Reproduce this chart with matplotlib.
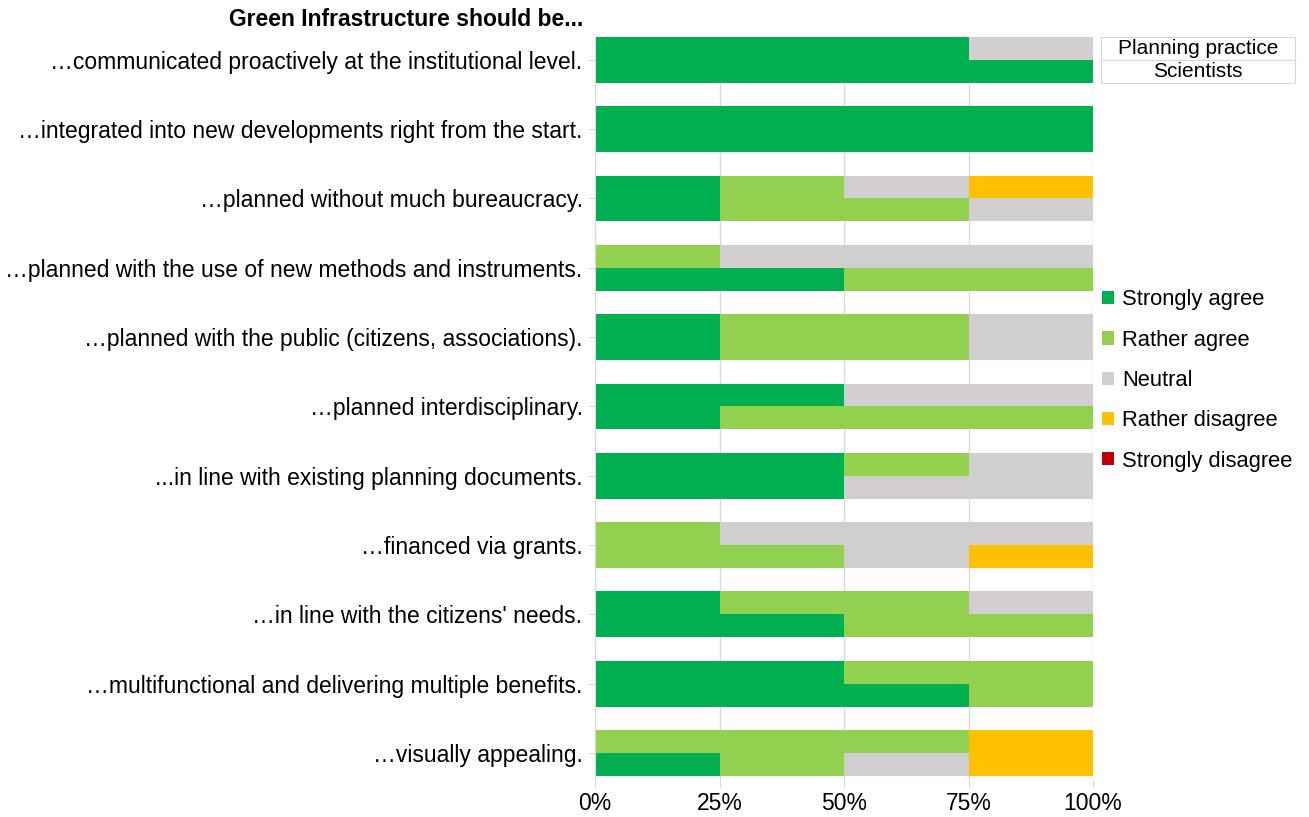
import matplotlib
matplotlib.use("Agg")
import matplotlib.pyplot as plt
from matplotlib.patches import Patch
import numpy as np

plt.rcParams["font.family"] = ["Liberation Sans", "DejaVu Sans"]

statements = [
    "\u2026communicated proactively at the institutional level.",
    "\u2026integrated into new developments right from the start.",
    "\u2026planned without much bureaucracy.",
    "\u2026planned with the use of new methods and instruments.",
    "\u2026planned with the public (citizens, associations).",
    "\u2026planned interdisciplinary.",
    "...in line with existing planning documents.",
    "\u2026financed via grants.",
    "\u2026in line with the citizens' needs.",
    "\u2026multifunctional and delivering multiple benefits.",
    "\u2026visually appealing.",
]
answers = ["Strongly agree", "Rather agree", "Neutral", "Rather disagree", "Strongly disagree"]
answer_colors = ["#00b050", "#92d050", "#d0cece", "#ffc000", "#c00000"]
groups = ["Planning practice", "Scientists"]

# shares in percent, one row per statement, columns follow `answers`
planning_practice = np.array([
    [75, 0, 25, 0, 0],
    [100, 0, 0, 0, 0],
    [25, 25, 25, 25, 0],
    [0, 25, 75, 0, 0],
    [25, 50, 25, 0, 0],
    [50, 0, 50, 0, 0],
    [50, 25, 25, 0, 0],
    [0, 25, 75, 0, 0],
    [25, 50, 25, 0, 0],
    [50, 50, 0, 0, 0],
    [0, 75, 0, 25, 0],
])
scientists = np.array([
    [100, 0, 0, 0, 0],
    [100, 0, 0, 0, 0],
    [25, 50, 25, 0, 0],
    [50, 50, 0, 0, 0],
    [25, 50, 25, 0, 0],
    [25, 75, 0, 0, 0],
    [50, 0, 50, 0, 0],
    [0, 50, 25, 25, 0],
    [50, 50, 0, 0, 0],
    [75, 25, 0, 0, 0],
    [25, 25, 25, 25, 0],
])

fig = plt.figure(figsize=(13.09, 8.17), dpi=100)
ax = fig.add_axes([595 / 1309, 1 - 780 / 817, 498 / 1309, 743 / 817])

bar_h = 0.33
y = np.arange(len(statements))
for offset, data in ((-bar_h / 2, planning_practice), (bar_h / 2, scientists)):
    left = np.zeros(len(statements))
    for k, color in enumerate(answer_colors):
        ax.barh(y + offset, data[:, k], left=left, height=bar_h, color=color,
                linewidth=0, zorder=2)
        left += data[:, k]

ax.set_xlim(0, 100)
ax.set_ylim(10.39, -bar_h)
ax.set_xticks([0, 25, 50, 75, 100])
ax.set_xticklabels(["0%", "25%", "50%", "75%", "100%"], fontsize=16.5)
ax.set_yticks(y)
ax.set_yticklabels(statements, fontsize=16.5)
ax.xaxis.grid(True, color="#d9d9d9", linewidth=1, zorder=0)
for side in ("top", "right", "bottom"):
    ax.spines[side].set_visible(False)
ax.spines["left"].set_color("#d9d9d9")
ax.tick_params(axis="x", length=5, color="#d9d9d9", pad=4)
ax.tick_params(axis="y", length=5, color="#d9d9d9", pad=4)

fig.text(583 / 1309, 1 - 20 / 817, "Green Infrastructure should be...",
         ha="right", va="center", fontsize=16.5, fontweight="bold")

# group key: two boxed rows naming the upper and lower bar
for i, name in enumerate(groups):
    top = 37 + i * 23
    box = fig.add_axes([1101 / 1309, 1 - (top + 23) / 817, 194 / 1309, 23 / 817])
    box.set_xticks([])
    box.set_yticks([])
    for s in box.spines.values():
        s.set_color("#d9d9d9")
    box.text(0.5, 0.5, name, ha="center", va="center", fontsize=15,
             transform=box.transAxes)

handles = [Patch(facecolor=c, label=a) for a, c in zip(answers, answer_colors)]
fig.legend(handles=handles, loc="upper left", bbox_to_anchor=(1087 / 1309, 1 - 274 / 817),
           frameon=False, fontsize=15.8, handlelength=0.55, handleheight=0.55,
           handletextpad=0.35, labelspacing=0.88, borderaxespad=0.3)

fig.savefig("out.png", dpi=100)
